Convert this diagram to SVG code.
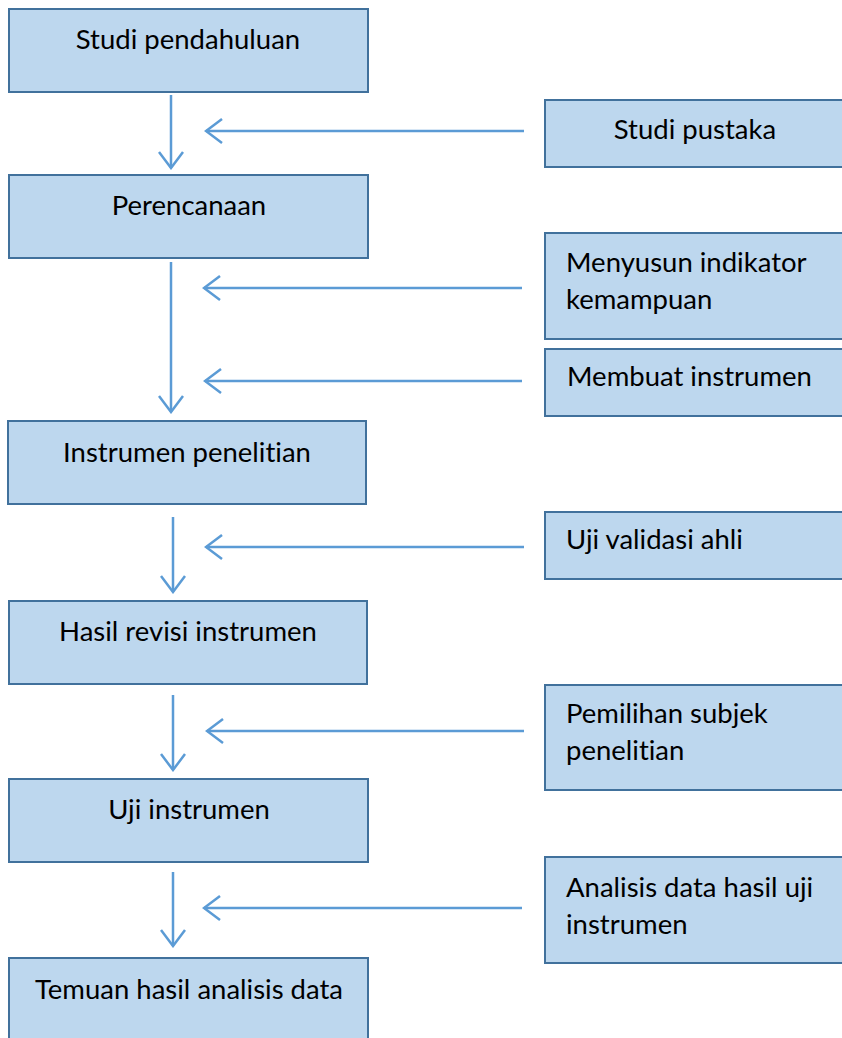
<svg xmlns="http://www.w3.org/2000/svg" width="842" height="1038" viewBox="0 0 842 1038">
<defs>
<marker id="ah" viewBox="0 0 20 28" refX="18" refY="14" markerWidth="20" markerHeight="28" markerUnits="userSpaceOnUse" orient="auto">
<path d="M2,2 L18,14 L2,26" fill="none" stroke="#5b9bd5" stroke-width="2.5"/>
</marker>
<style>
.box{fill:#bdd7ee;stroke:#41719c;stroke-width:2}
.t{font-family:Lato,"Open Sans",sans-serif;font-size:27.5px;fill:#000;font-variant-ligatures:none}
.c{text-anchor:middle}
.ln{stroke:#5b9bd5;stroke-width:2.5;fill:none;marker-end:url(#ah)}
</style>
</defs>
<rect width="842" height="1038" fill="#fff"/>
<g id="connectors">
<line class="ln" x1="171" y1="95" x2="171" y2="168"/>
<line class="ln" x1="171" y1="262" x2="171" y2="412"/>
<line class="ln" x1="173" y1="517" x2="173" y2="592"/>
<line class="ln" x1="173" y1="695" x2="173" y2="770"/>
<line class="ln" x1="173" y1="872" x2="173" y2="946"/>
<line class="ln" x1="524" y1="131" x2="206" y2="131"/>
<line class="ln" x1="522" y1="288" x2="204" y2="288"/>
<line class="ln" x1="522" y1="381" x2="205" y2="381"/>
<line class="ln" x1="524" y1="547" x2="206" y2="547"/>
<line class="ln" x1="524" y1="731" x2="207" y2="731"/>
<line class="ln" x1="522" y1="908" x2="204" y2="908"/>
</g>
<g id="studi-pendahuluan"><rect class="box" x="9" y="9" width="359" height="83"/><text class="t c" x="188" y="49">Studi pendahuluan</text></g>
<g id="perencanaan"><rect class="box" x="9" y="175" width="359" height="83"/><text class="t c" x="189" y="215">Perencanaan</text></g>
<g id="instrumen-penelitian"><rect class="box" x="8" y="421" width="358" height="83"/><text class="t c" x="187" y="462">Instrumen penelitian</text></g>
<g id="hasil-revisi"><rect class="box" x="9" y="601" width="358" height="83"/><text class="t c" x="188" y="641">Hasil revisi instrumen</text></g>
<g id="uji-instrumen"><rect class="box" x="9" y="779" width="359" height="83"/><text class="t c" x="189" y="819">Uji instrumen</text></g>
<g id="temuan"><rect class="box" x="9" y="958" width="359" height="90"/><text class="t c" x="189" y="999">Temuan hasil analisis data</text></g>
<g id="studi-pustaka"><rect class="box" x="545" y="100" width="305" height="67"/><text class="t c" x="695" y="139">Studi pustaka</text></g>
<g id="menyusun"><rect class="box" x="545" y="233" width="305" height="106"/><text class="t" x="566" y="272">Menyusun indikator</text><text class="t" x="566" y="309">kemampuan</text></g>
<g id="membuat"><rect class="box" x="545" y="349" width="305" height="67"/><text class="t" x="567" y="386">Membuat instrumen</text></g>
<g id="uji-validasi"><rect class="box" x="545" y="512" width="305" height="67"/><text class="t" x="566" y="549">Uji validasi ahli</text></g>
<g id="pemilihan"><rect class="box" x="545" y="685" width="305" height="105"/><text class="t" x="566" y="723">Pemilihan subjek</text><text class="t" x="566" y="760">penelitian</text></g>
<g id="analisis"><rect class="box" x="545" y="857" width="305" height="106"/><text class="t" x="566" y="897">Analisis data hasil uji</text><text class="t" x="566" y="934">instrumen</text></g>
</svg>
